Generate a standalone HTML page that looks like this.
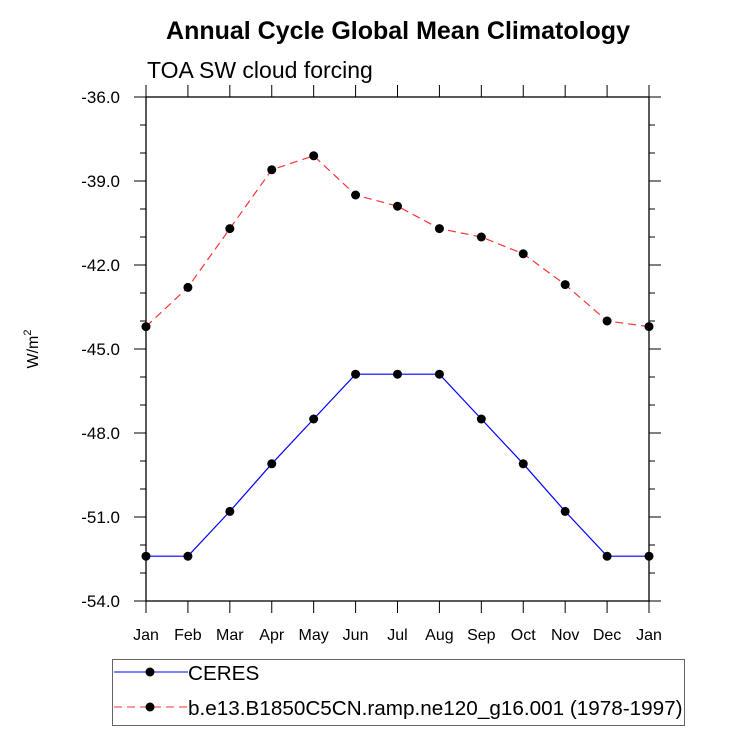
<!DOCTYPE html>
<html><head><meta charset="utf-8"><style>
body{margin:0;background:#fff;}
svg{display:block;font-family:"Liberation Sans",Arial,sans-serif;}
</style></head><body>
<svg id="chart" width="733" height="732">
<text x="398" y="39" text-anchor="middle" font-size="25" font-weight="bold">Annual Cycle Global Mean Climatology</text>
<text x="147" y="78" font-size="23">TOA SW cloud forcing</text>
<text transform="translate(38,349) rotate(-90)" text-anchor="middle" font-size="16">W/m<tspan dy="-7" font-size="11">2</tspan></text>
<g id="axes"></g>
<g id="series"></g>
<rect x="112.5" y="659.5" width="572" height="66" fill="none" stroke="#666" stroke-width="1"/>
<g>
<line x1="114" y1="672" x2="188" y2="672" stroke="#00f" stroke-width="1"/>
<circle cx="150" cy="672" r="4.5" fill="#000"/>
<text x="188" y="680" font-size="20.7">CERES</text>
</g>
<g>
<line x1="114" y1="707" x2="188" y2="707" stroke="#f33" stroke-width="1" stroke-dasharray="8,5"/>
<circle cx="150" cy="707" r="4.5" fill="#000"/>
<text x="188" y="715" font-size="20.7">b.e13.B1850C5CN.ramp.ne120_g16.001 (1978-1997)</text>
</g>
</svg>
<script>
const months = ["Jan","Feb","Mar","Apr","May","Jun","Jul","Aug","Sep","Oct","Nov","Dec","Jan"];
const ceresValues = [-52.4,-52.4,-50.8,-49.1,-47.5,-45.9,-45.9,-45.9,-47.5,-49.1,-50.8,-52.4,-52.4];
const modelValues = [-44.2,-42.8,-40.7,-38.6,-38.1,-39.5,-39.9,-40.7,-41.0,-41.6,-42.7,-44.0,-44.2];
const yTicks = [-36,-39,-42,-45,-48,-51,-54];
const yTickLabels = ["-36.0","-39.0","-42.0","-45.0","-48.0","-51.0","-54.0"];

const NS="http://www.w3.org/2000/svg";
const L=146,R=649,T=97,B=601,YMIN=-54,YMAX=-36;
const xs=i=>L+(R-L)*i/(months.length-1);
const ys=v=>B-(v-YMIN)/(YMAX-YMIN)*(B-T);
function mk(tag,attrs,parent){const e=document.createElementNS(NS,tag);for(const k in attrs)e.setAttribute(k,attrs[k]);parent.appendChild(e);return e;}
const ax=document.getElementById('axes');
const frame=mk('rect',{x:L,y:T,width:R-L,height:B-T,fill:'none',stroke:'#000','stroke-width':1.3},ax);


months.forEach((m,i)=>{
  const x=xs(i);
  mk('line',{x1:x,y1:B,x2:x,y2:B+12,stroke:'#000'},ax);
  mk('line',{x1:x,y1:T,x2:x,y2:T-12,stroke:'#000'},ax);
  const t=mk('text',{x:x,y:B+39,'text-anchor':'middle','font-size':16},ax);
  t.textContent=m;
  
  
});
for(let v=YMIN;v<=YMAX;v+=1){
  const y=ys(v);const major=((v-YMIN)%3===0);const len=major?12:6;
  mk('line',{x1:L,y1:y,x2:L-len,y2:y,stroke:'#000'},ax);
  mk('line',{x1:R,y1:y,x2:R+len,y2:y,stroke:'#000'},ax);
}
yTicks.forEach((v,i)=>{
  const t=mk('text',{x:L-26,y:ys(v)+6,'text-anchor':'end','font-size':17},ax);
  t.textContent=yTickLabels[i];
  
  
});
const sg=document.getElementById('series');
function draw(vals,color,dash,name){
  const g=mk('g',{},sg);
  
  
  const pts=vals.map((v,i)=>xs(i)+','+ys(v)).join(' ');
  const a={points:pts,fill:'none',stroke:color,'stroke-width':1.2};
  if(dash)a['stroke-dasharray']=dash;
  mk('polyline',a,g);
  vals.forEach((v,i)=>{
    const c=mk('circle',{cx:xs(i),cy:ys(v),r:4.5,fill:'#000'},g);
    
    
  });
}
draw(ceresValues,'#00f',null,'ceres-series');
draw(modelValues,'#f33','8,5','model-series');
</script>
</body></html>
